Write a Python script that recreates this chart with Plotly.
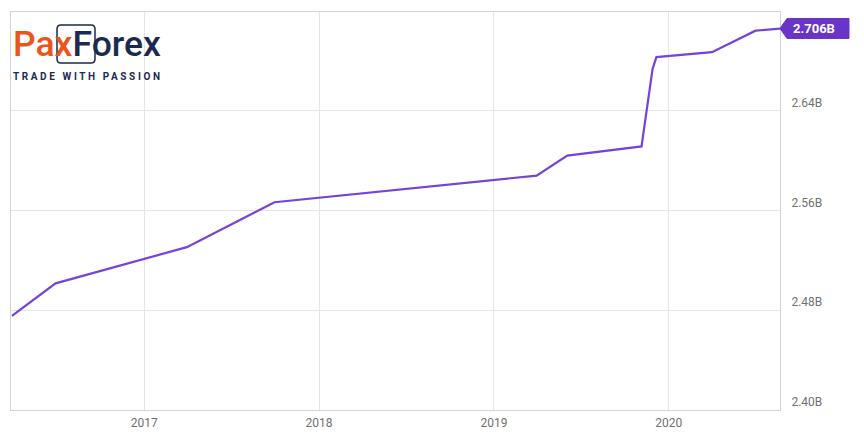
import plotly.graph_objects as go

dates = ["2016-03-31", "2016-06-30", "2017-03-31", "2017-09-30", "2019-03-31",
         "2019-06-03", "2019-11-05", "2019-11-28", "2019-12-06", "2020-03-31",
         "2020-06-30", "2020-08-24"]
values = [2.4754, 2.5016, 2.5306, 2.5666, 2.5880, 2.6040, 2.6114, 2.6734,
          2.6830, 2.6870, 2.7042, 2.7060]
y_ticks = [2.40, 2.48, 2.56, 2.64]
y_tick_labels = ["2.40B", "2.48B", "2.56B", "2.64B"]
x_ticks = ["2017-01-01", "2018-01-01", "2019-01-01", "2020-01-01"]
x_tick_labels = ["2017", "2018", "2019", "2020"]
last_label = "2.706B"

LINE = "#7444d9"
TAG = "#6a34c9"
GRID = "#e6e6e6"
BORDER = "#d4d4d4"
TICK = "#707070"
NAVY = "#1b2a4e"

fig = go.Figure()
fig.add_trace(go.Scatter(x=dates, y=values, mode="lines",
                         line=dict(color=LINE, width=2.2), hoverinfo="skip",
                         showlegend=False))

# page body has an 8px margin, so the figure is sized/offset to compensate
fig.update_layout(
    width=856, height=434,
    margin=dict(l=3, r=84, t=4, b=32),
    paper_bgcolor="white", plot_bgcolor="white",
    font=dict(family="Roboto, sans-serif", size=12, color=TICK),
    xaxis=dict(range=["2016-03-29", "2020-08-20"], tickvals=x_ticks,
               ticktext=x_tick_labels, showgrid=True, gridcolor=GRID,
               gridwidth=1, showline=True, linecolor=BORDER, mirror=True,
               ticks="", zeroline=False, ticklabelstandoff=2,
               tickfont=dict(size=12, color=TICK)),
    yaxis=dict(range=[2.40, 2.7192], side="right", tickvals=y_ticks,
               ticktext=y_tick_labels, showgrid=True, gridcolor=GRID,
               gridwidth=1, showline=True, linecolor=BORDER, mirror=True,
               ticks="", zeroline=False, ticklabelstandoff=8,
               ticklabelshift=-8, tickfont=dict(size=12, color=TICK)),
)

# value tag at the end of the line
fig.add_shape(type="path", xref="paper", yref="y", xsizemode="pixel",
              ysizemode="pixel", xanchor=1, yanchor=values[-1],
              path="M 0 0 L 7 10 L 69 10 L 69 -10 L 7 -10 Z",
              fillcolor=TAG, line=dict(color=TAG, width=1), layer="above")
fig.add_annotation(x=1, y=values[-1], xref="paper", yref="y",
                   text="<b>" + last_label + "</b>", showarrow=False,
                   xanchor="left", xshift=11, yshift=0,
                   font=dict(family="Roboto, sans-serif", size=13, color="white"))

# logo
fig.add_annotation(xref="paper", yref="paper", x=0, y=0.92, xanchor="left",
                   yanchor="middle", showarrow=False,
                   text="<span style='color:#e8561e'>Pax</span><span style='color:#1b2a4e'>Forex</span>",
                   font=dict(family="Roboto, sans-serif", size=35.5, color=NAVY, weight=500))
fig.add_shape(type="path", xref="paper", yref="paper", xsizemode="pixel",
              ysizemode="pixel", xanchor=0, yanchor=1,
              path="M 50 -13 L 80 -13 Q 84 -13 84 -17 L 84 -47 Q 84 -51 80 -51 L 50 -51 Q 46 -51 46 -47 L 46 -17 Q 46 -13 50 -13 Z",
              line=dict(color=NAVY, width=1.5), fillcolor="rgba(0,0,0,0)")
fig.add_annotation(xref="paper", yref="paper", x=0, y=0.838, xanchor="left",
                   yanchor="middle", showarrow=False,
                   text="<b><span style='letter-spacing:2.6px'>TRADE WITH PASSION</span></b>",
                   font=dict(family="Roboto, sans-serif", size=10, color=NAVY))

fig.write_html("out.html")
